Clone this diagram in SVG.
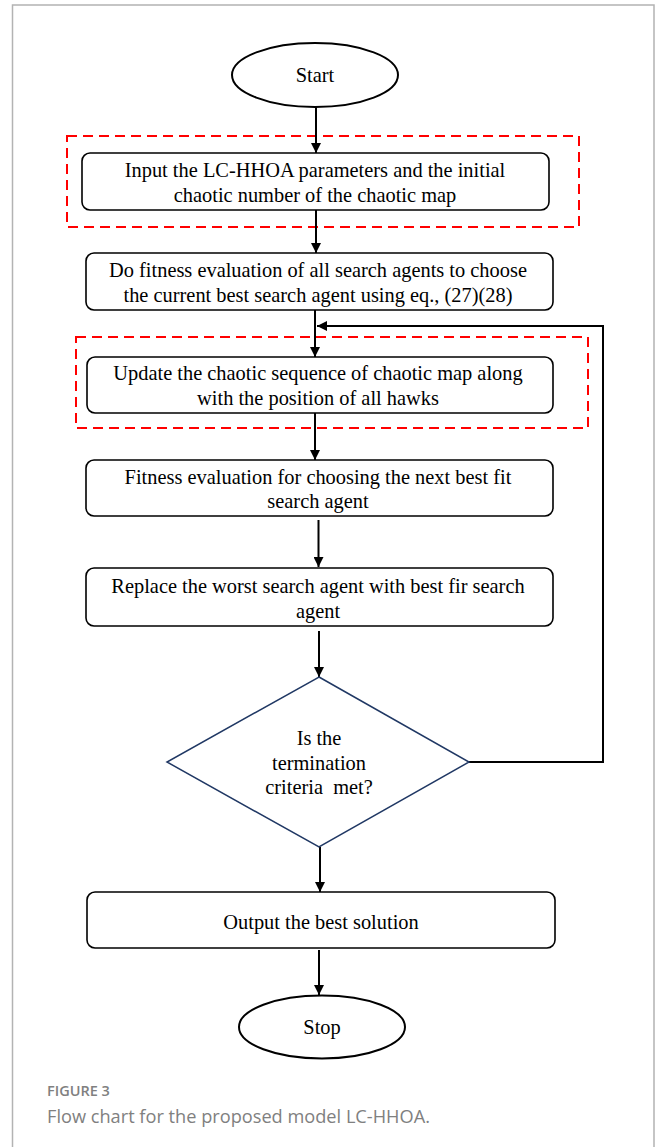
<svg xmlns="http://www.w3.org/2000/svg" width="656" height="1147" viewBox="0 0 656 1147">
<defs>
<marker id="arr" viewBox="0 0 10 10" refX="10" refY="5" markerWidth="5" markerHeight="5" orient="auto" markerUnits="strokeWidth">
<path d="M0,0 L10,5 L0,10 z" fill="#000"/>
</marker>
<style>
.t{font-family:"Liberation Serif","Times New Roman",serif;font-size:20.4px;fill:#000;text-anchor:middle}
.box{fill:#fff;stroke:#000;stroke-width:1.6}
.term{fill:#fff;stroke:#000;stroke-width:2}
.dash{fill:none;stroke:#ff0000;stroke-width:2;stroke-dasharray:10 6}
.c{fill:none;stroke:#000;stroke-width:2}
.cap{font-family:"Open Sans","Noto Sans",sans-serif;fill:#808080}
</style>
</defs>
<rect width="656" height="1147" fill="#fff"/>
<path d="M12.5,1147 V5 H654 V1147" fill="none" stroke="#b3b3b3" stroke-width="1.5"/>

<g id="groups">
<rect class="dash" x="67" y="136" width="512" height="91"/>
<rect class="dash" x="76" y="337" width="512" height="91"/>
</g>

<g id="connectors">
<line class="c" x1="316" y1="107" x2="316" y2="153" marker-end="url(#arr)"/>
<line class="c" x1="316" y1="210" x2="316" y2="253" marker-end="url(#arr)"/>
<line class="c" x1="315" y1="310" x2="315" y2="357" marker-end="url(#arr)"/>
<polyline class="c" points="469,762 603,762 603,326 317,326" marker-end="url(#arr)"/>
<line class="c" x1="315" y1="413" x2="315" y2="460" marker-end="url(#arr)"/>
<line class="c" x1="318.5" y1="520" x2="318.5" y2="567" marker-end="url(#arr)"/>
<line class="c" x1="319" y1="631" x2="319" y2="677" marker-end="url(#arr)"/>
<line class="c" x1="320" y1="847" x2="320" y2="892" marker-end="url(#arr)"/>
<line class="c" x1="319" y1="950" x2="319" y2="995" marker-end="url(#arr)"/>
</g>

<g id="start">
<ellipse class="term" cx="315" cy="75" rx="83" ry="32"/>
<text class="t" x="315" y="82">Start</text>
</g>

<g id="input">
<rect class="box" x="82" y="153" width="467" height="57" rx="8"/>
<text class="t" x="315" y="177">Input the LC-HHOA parameters and the initial</text>
<text class="t" x="315" y="202">chaotic number of the chaotic map</text>
</g>

<g id="fitness1">
<rect class="box" x="86" y="253" width="467" height="57" rx="8"/>
<text class="t" x="318" y="277">Do fitness evaluation of all search agents to choose</text>
<text class="t" x="318" y="302">the current best search agent using eq., (27)(28)</text>
</g>

<g id="update">
<rect class="box" x="87" y="357" width="466" height="56" rx="8"/>
<text class="t" x="318" y="380">Update the chaotic sequence of chaotic map along</text>
<text class="t" x="318" y="405">with the position of all hawks</text>
</g>

<g id="fitness2">
<rect class="box" x="86" y="460" width="467" height="56" rx="8"/>
<text class="t" x="318" y="484">Fitness evaluation for choosing the next best fit</text>
<text class="t" x="318" y="508">search agent</text>
</g>

<g id="replace">
<rect class="box" x="86" y="568" width="467" height="58" rx="8"/>
<text class="t" x="318" y="593">Replace the worst search agent with best fir search</text>
<text class="t" x="318" y="618">agent</text>
</g>

<g id="decision">
<polygon points="319,677 469,762 319,847 167,762" fill="#fff" stroke="#203864" stroke-width="1.5"/>
<text class="t" x="319" y="745">Is the</text>
<text class="t" x="319" y="770">termination</text>
<text class="t" x="319" y="794" xml:space="preserve">criteria  met?</text>
</g>

<g id="output">
<rect class="box" x="87" y="892" width="468" height="56" rx="8"/>
<text class="t" x="321" y="929">Output the best solution</text>
</g>

<g id="stop">
<ellipse class="term" cx="322" cy="1027" rx="83" ry="31.5"/>
<text class="t" x="322" y="1034">Stop</text>
</g>

<g id="caption">
<text class="cap" x="47" y="1096" font-size="14.5" font-weight="600">FIGURE 3</text>
<text class="cap" x="47" y="1123" font-size="18.2">Flow chart for the proposed model LC-HHOA.</text>
</g>
</svg>
